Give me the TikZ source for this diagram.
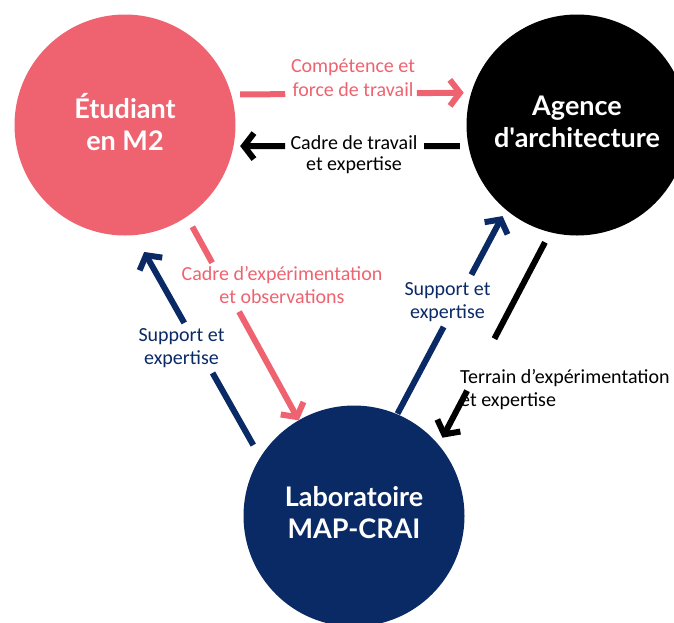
\documentclass[tikz,border=0pt]{standalone}
\usepackage{fontspec}
\setmainfont{Carlito}
\newfontfamily\headfont{Lato}[Ligatures=TeXOff]
\usetikzlibrary{arrows.meta,calc}
\definecolor{pinkc}{HTML}{EE636F}
\definecolor{navyc}{HTML}{0A2A66}
\begin{document}
\begin{tikzpicture}[x=1pt,y=-1pt,
  circ/.style={circle, minimum size=221pt, inner sep=0pt, outer sep=0pt, align=center, text=white,
    text depth=7pt, font=\headfont\bfseries\fontsize{27}{32}\selectfont},
  lbl/.style={align=center, inner sep=0pt, font=\fontsize{20}{24}\selectfont},
  link/.style={line width=6pt},
  tip/.style={-{Straight Barb[length=10pt,width=26pt]}}
]
\useasboundingbox (0,0) rectangle (674,622);
\node[circ, fill=pinkc] (e) at (125,125) {Étudiant\\en M2};
\node[circ, fill=black] (a) at (577,125) {Agence\\d'architecture};
\node[circ, fill=navyc] (l) at (354,516) {Laboratoire\\MAP-CRAI};

% pink top
\coordinate (p1a) at ($(e.16.7)!0.225!(a.163.3)$);
\coordinate (p1b) at ($(e.16.7)!0.7735!(a.163.3)$);
\draw[link, pinkc, shorten <=9pt] (e.16.7) -- (p1a);
\draw[link, pinkc, tip, shorten >=7.6pt] (p1b) -- (a.163.3);
% black top
\coordinate (p2a) at ($(a.191.3)!0.1886!(e.-11.3)$);
\coordinate (p2b) at ($(a.191.3)!0.780!(e.-11.3)$);
\draw[link, black, shorten <=8.7pt] (a.191.3) -- (p2a);
\draw[link, black, tip, shorten >=6.7pt] (p2b) -- (e.-11.3);
% pink diagonal
\coordinate (p3a) at ($(e.-56.3)!0.2265!(l.120.1)$);
\coordinate (p3b) at ($(e.-56.3)!0.467!(l.120.1)$);
\draw[link, pinkc, shorten <=11.6pt] (e.-56.3) -- (p3a);
\draw[link, pinkc, tip] (p3b) -- (l.120.1);
% blue left
\coordinate (p4a) at ($(l.148)!0.380!(e.-85.6)$);
\coordinate (p4b) at ($(l.148)!0.605!(e.-85.6)$);
\draw[link, navyc, shorten <=14.2pt] (l.148) -- (p4a);
\draw[link, navyc, tip, shorten >=19.4pt] (p4b) -- (e.-85.6);
% blue right
\coordinate (p5a) at ($(l.67.4)!0.427!(a.230.5)$);
\coordinate (p5b) at ($(l.67.4)!0.682!(a.230.5)$);
\draw[link, navyc, shorten <=0.7pt] (l.67.4) -- (p5a);
\draw[link, navyc, tip, shorten >=7.3pt] (p5b) -- (a.230.5);
% black right
\coordinate (p6a) at ($(a.256.6)!0.5005!(l.40.7)$);
\coordinate (p6b) at ($(a.256.6)!0.745!(l.40.7)$);
\draw[link, shorten <=11.4pt] (a.256.6) -- (p6a);
\draw[link, tip, shorten >=8.2pt] (p6b) -- (l.40.7);

\node[lbl, text=pinkc] (t1) at (353,78) {Compétence et\\force de travail};
\node[lbl, font=\fontsize{20}{21}\selectfont] (t2) at (354,155) {Cadre de travail\\et expertise};
\node[lbl, text=pinkc, font=\fontsize{20}{23}\selectfont] (t3) at (282,285) {Cadre d’expérimentation\\et observations};
\node[lbl, text=navyc, font=\fontsize{20}{23}\selectfont] (t4) at (181.5,348) {Support et\\expertise};
\node[lbl, text=navyc, font=\fontsize{20}{23}\selectfont] (t5) at (447.5,302) {Support et\\expertise};
\node[lbl, align=left, anchor=west, font=\fontsize{20}{23}\selectfont] (t6) at (460,390) {Terrain d’expérimentation\\et expertise};
\end{tikzpicture}
\end{document}
